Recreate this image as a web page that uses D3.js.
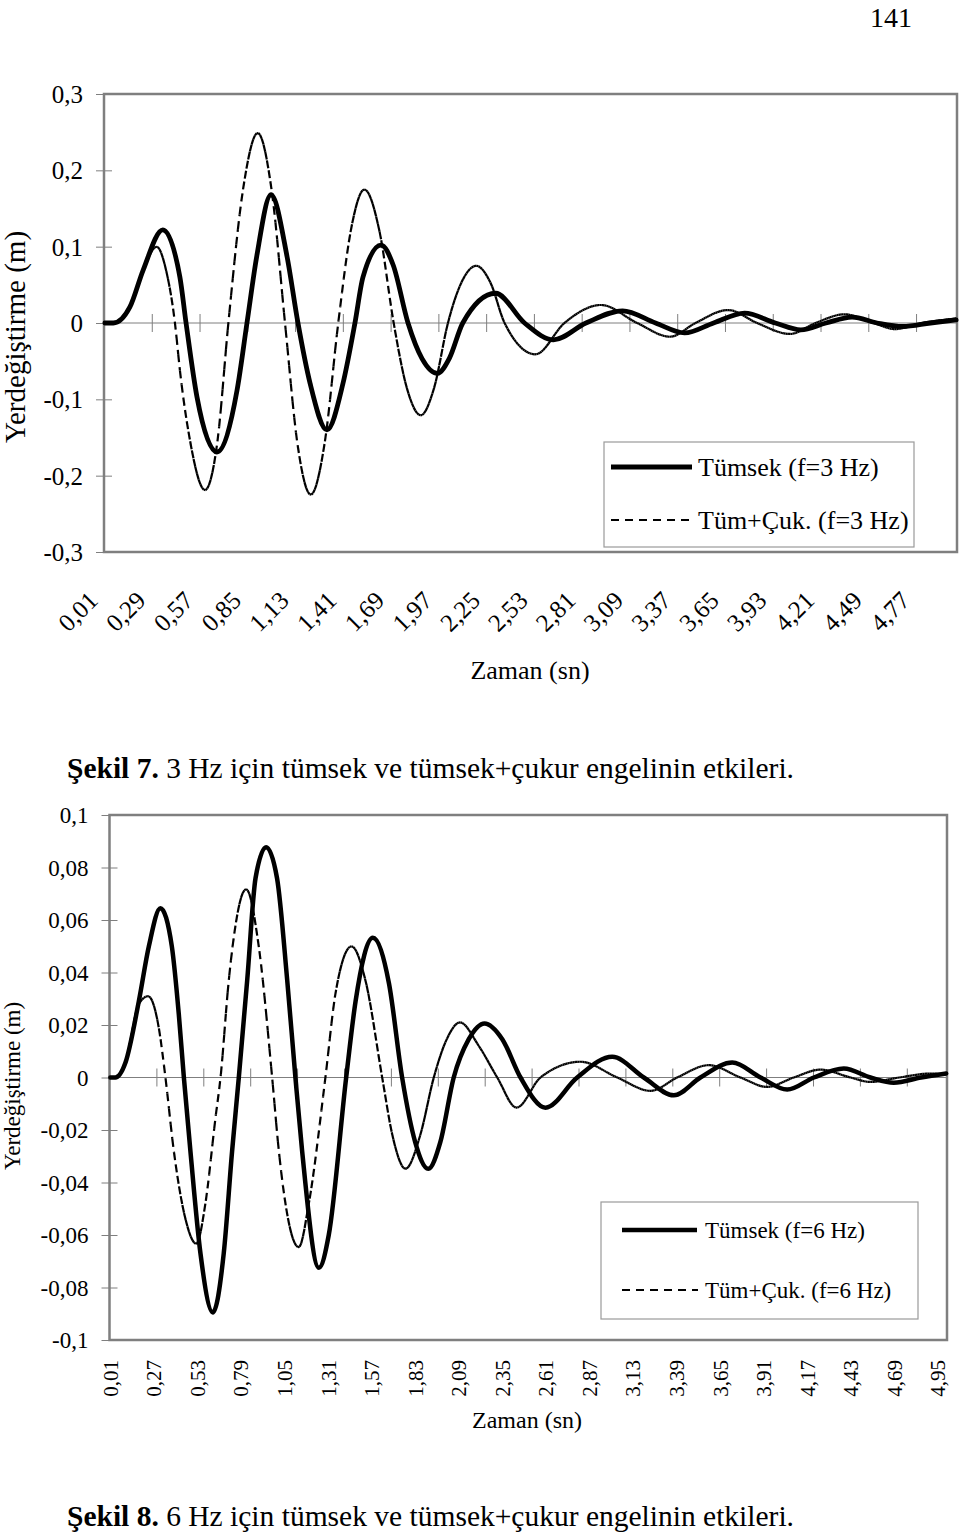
<!DOCTYPE html>
<html><head><meta charset="utf-8">
<script src="https://cdn.jsdelivr.net/npm/d3@7"></script>
<style>
body{margin:0;background:#fff}
text{font-family:"Liberation Serif","Times New Roman",serif;fill:#000}
</style>
</head><body><script>
// ---------- Figure 7 (3 Hz) ----------
const xLabels3 = ["0,01","0,29","0,57","0,85","1,13","1,41","1,69","1,97","2,25","2,53","2,81","3,09","3,37","3,65","3,93","4,21","4,49","4,77"];
const yTicks3 = [0.3,0.2,0.1,0,-0.1,-0.2,-0.3];
const yLabels3 = ["0,3","0,2","0,1","0","-0,1","-0,2","-0,3"];
const tumsek3T = [0.01,0.06,0.157,0.234,0.35,0.45,0.486,0.55,0.667,0.785,0.843,0.90,0.984,1.078,1.142,1.213,1.312,1.406,1.476,1.523,1.629,1.70,1.787,1.87,1.959,2.03,2.108,2.30,2.47,2.64,2.83,3.045,3.238,3.408,3.578,3.76,3.94,4.09,4.237,4.39,4.536,4.687,4.85,5.00];
const tumsek3Y = [0,0,0.021,0.069,0.122,0.06,0,-0.097,-0.169,-0.088,0,0.087,0.168,0.087,0,-0.079,-0.14,-0.079,0,0.06,0.102,0.076,0,-0.047,-0.066,-0.046,0,0.039,0,-0.022,0,0.016,0,-0.013,0,0.013,0,-0.009,0,0.0077,0,-0.0046,0,0.004];
const tumcuk3T = [0.01,0.06,0.157,0.234,0.314,0.37,0.421,0.45,0.51,0.597,0.67,0.734,0.82,0.906,0.99,1.066,1.14,1.217,1.30,1.378,1.455,1.531,1.62,1.703,1.78,1.862,1.94,2.021,2.10,2.187,2.27,2.353,2.534,2.704,2.918,3.13,3.323,3.472,3.663,3.833,4.026,4.176,4.345,4.516,4.64,4.80,5.00];
const tumcuk3Y = [0,0,0.021,0.069,0.100,0.068,0,-0.062,-0.155,-0.219,-0.155,0,0.175,0.249,0.17,0,-0.16,-0.225,-0.155,0,0.125,0.175,0.12,0,-0.085,-0.121,-0.085,0,0.053,0.075,0.053,0,-0.041,0,0.0236,0,-0.018,0,0.017,0,-0.0144,0,0.0114,0,-0.008,0,0.006];

// ---------- Figure 8 (6 Hz) ----------
const xLabels6 = ["0,01","0,27","0,53","0,79","1,05","1,31","1,57","1,83","2,09","2,35","2,61","2,87","3,13","3,39","3,65","3,91","4,17","4,43","4,69","4,95"];
const yTicks6 = [0.1,0.08,0.06,0.04,0.02,0,-0.02,-0.04,-0.06,-0.08,-0.1];
const yLabels6 = ["0,1","0,08","0,06","0,04","0,02","0","-0,02","-0,04","-0,06","-0,08","-0,1"];
const tumsek6T = [0.01,0.04,0.10,0.18,0.24,0.309,0.377,0.419,0.449,0.488,0.548,0.622,0.687,0.737,0.777,0.827,0.877,0.94,1.005,1.066,1.115,1.155,1.255,1.314,1.418,1.474,1.577,1.673,1.752,1.83,1.908,1.98,2.06,2.15,2.244,2.35,2.459,2.608,2.797,3.006,3.195,3.374,3.533,3.723,3.892,4.051,4.21,4.389,4.548,4.687,4.85,5.00];
const tumsek6Y = [0,0,0.0056,0.029,0.050,0.0645,0.050,0.0239,0,-0.028,-0.067,-0.0895,-0.067,-0.028,0,0.037,0.076,0.0877,0.076,0.037,0,-0.028,-0.0725,-0.060,0,0.029,0.0532,0.036,0,-0.0246,-0.0348,-0.0246,0,0.0146,0.0206,0.0146,0,-0.0115,0,0.0079,0,-0.0068,0,0.0057,0,-0.0046,0,0.0034,0,-0.002,0,0.0015];
const tumcuk6T = [0.01,0.04,0.10,0.18,0.236,0.30,0.339,0.389,0.46,0.523,0.578,0.638,0.668,0.717,0.821,0.896,0.976,1.016,1.135,1.195,1.294,1.354,1.45,1.533,1.633,1.693,1.772,1.86,1.941,2.02,2.097,2.21,2.32,2.435,2.578,2.817,3.036,3.235,3.394,3.583,3.772,3.931,4.09,4.25,4.429,4.548,4.72,4.906,5.00];
const tumcuk6Y = [0,0,0.0056,0.028,0.031,0.0187,0,-0.028,-0.0543,-0.0634,-0.0478,-0.0152,0,0.037,0.0718,0.050,0,-0.028,-0.0647,-0.048,0,0.032,0.050,0.037,0,-0.0217,-0.0348,-0.022,0,0.0148,0.021,0.012,0,-0.0115,0,0.006,0,-0.0051,0,0.0047,0,-0.0036,0,0.003,0,-0.0017,0,0.0015,0.0012];

const W = 960, H = 1534;
const svg = d3.select("body").append("svg").attr("width", W).attr("height", H);
const zip = (a, b) => a.map((v, i) => [v, b[i]]);
const parseLab = s => +s.replace(",", ".");

function drawChart(o) {
  const g = svg.append("g");
  const x = d3.scaleLinear().domain([0.005, 5.005]).range([o.left, o.right]);
  const y = d3.scaleLinear().domain([-o.yMax, o.yMax]).range([o.bottom, o.top]);
  const gray = "#7f7f7f";

  // frame
  g.append("rect").attr("x", o.left).attr("y", o.top)
    .attr("width", o.right - o.left).attr("height", o.bottom - o.top)
    .attr("fill", "none").attr("stroke", gray).attr("stroke-width", 2.5);

  // y axis
  const ya = g.append("g").attr("transform", `translate(${o.left},0)`)
    .call(d3.axisLeft(y).tickValues(o.yTicks).tickFormat((d, i) => o.yLabels[i]).tickSize(8));
  ya.select(".domain").remove();
  ya.selectAll(".tick line").attr("x1", 8).attr("x2", -8).attr("stroke", gray);
  ya.selectAll(".tick text").attr("x", -o.yLabelGap).attr("dy", "0.34em")
    .style("font-family", '"Liberation Serif",serif').style("font-size", o.yFont + "px");

  // zero line with category tick marks
  const za = g.append("g").attr("transform", `translate(0,${y(0)})`)
    .call(d3.axisBottom(x).tickValues(d3.range(1, 18).map(k => 0.005 + k * 0.28)).tickFormat("").tickSize(9));
  za.select(".domain").remove();
  za.selectAll(".tick line").attr("y1", -9).attr("y2", 9).attr("stroke", gray);
  za.append("line").attr("x1", o.left).attr("x2", o.right).attr("stroke", gray).attr("stroke-width", 1);

  // category labels
  const xa = g.append("g")
    .call(d3.axisBottom(x).tickValues(o.xLabels.map(parseLab)).tickFormat((d, i) => o.xLabels[i]).tickSize(0));
  xa.select(".domain").remove();
  xa.selectAll(".tick text").attr("y", 0).attr("dy", 0)
    .attr("text-anchor", "end")
    .attr("transform", `translate(${o.xLabDx},${o.xLabY}) rotate(${o.xRot})`)
    .style("font-family", '"Liberation Serif",serif').style("font-size", o.xFont + "px");

  // axis titles
  g.append("text").attr("text-anchor", "middle")
    .attr("transform", `translate(${o.yTitleX},${o.yTitleY}) rotate(-90)`)
    .style("font-size", o.yTitleFont + "px").text("Yerdeğiştirme (m)");
  g.append("text").attr("text-anchor", "middle").attr("x", o.xTitleX).attr("y", o.xTitleY)
    .style("font-size", o.xTitleFont + "px").text("Zaman (sn)");

  const line = d3.line().x(d => x(d[0])).y(d => y(d[1])).curve(d3.curveMonotoneX);

  // solid series
  g.append("path").attr("d", line(o.solid)).attr("fill", "none").attr("stroke", "#000")
    .attr("stroke-width", o.solidW).attr("stroke-linejoin", "round").attr("stroke-linecap", "round");

  // dashed series: drawn category by category, dash pattern restarting on each segment
  const tmp = g.append("path").attr("d", line(o.dashed)).attr("fill", "none").attr("stroke", "none");
  const node = tmp.node(), L = node.getTotalLength();
  const N = Math.ceil(L / 0.4), s = [];
  for (let i = 0; i <= N; i++) s.push(node.getPointAtLength(i * L / N));
  tmp.remove();
  const cx = d3.range(500).map(i => x(0.01 + i * 0.01));
  let j = 0; const pts = [];
  for (const c of cx) {
    while (j < s.length - 2 && s[j + 1].x < c) j++;
    const a = s[j], b = s[j + 1];
    const f = b.x === a.x ? 0 : Math.max(0, Math.min(1, (c - a.x) / (b.x - a.x)));
    pts.push([c, a.y + (b.y - a.y) * f]);
  }
  g.append("g").selectAll("line").data(d3.pairs(pts)).join("line")
    .attr("x1", d => d[0][0]).attr("y1", d => d[0][1]).attr("x2", d => d[1][0]).attr("y2", d => d[1][1])
    .attr("stroke", "#000").attr("stroke-width", o.dashW).attr("stroke-dasharray", "8,5");

  // legend
  const lg = o.legend;
  g.append("rect").attr("x", lg.x).attr("y", lg.y).attr("width", lg.w).attr("height", lg.h)
    .attr("fill", "#fff").attr("stroke", "#9a9a9a").attr("stroke-width", 1.2);
  g.append("line").attr("x1", lg.lx1).attr("x2", lg.lx2).attr("y1", lg.y1).attr("y2", lg.y1)
    .attr("stroke", "#000").attr("stroke-width", o.solidW);
  g.append("line").attr("x1", lg.lx1).attr("x2", lg.lx2 + 1).attr("y1", lg.y2).attr("y2", lg.y2)
    .attr("stroke", "#000").attr("stroke-width", o.dashW).attr("stroke-dasharray", "8,6");
  g.append("text").attr("x", lg.tx).attr("y", lg.y1).attr("dy", "0.34em").style("font-size", lg.font + "px").text(lg.t1);
  g.append("text").attr("x", lg.tx).attr("y", lg.y2).attr("dy", "0.34em").style("font-size", lg.font + "px").text(lg.t2);
}

drawChart({
  left: 104, right: 957, top: 94, bottom: 552, yMax: 0.3,
  yTicks: yTicks3, yLabels: yLabels3, yLabelGap: 21, yFont: 25,
  xLabels: xLabels3, xLabDx: -6, xLabY: 602, xRot: -45, xFont: 25,
  yTitleX: 25, yTitleY: 337, yTitleFont: 29,
  xTitleX: 530, xTitleY: 679, xTitleFont: 26,
  solid: zip(tumsek3T, tumsek3Y), dashed: zip(tumcuk3T, tumcuk3Y), solidW: 4.8, dashW: 2.2,
  legend: {x: 604, y: 442, w: 310, h: 105, lx1: 611, lx2: 692, y1: 467, y2: 520, tx: 698, font: 26,
           t1: "Tümsek (f=3 Hz)", t2: "Tüm+Çuk. (f=3 Hz)"}
});

drawChart({
  left: 109.5, right: 947, top: 815, bottom: 1340, yMax: 0.1,
  yTicks: yTicks6, yLabels: yLabels6, yLabelGap: 21, yFont: 23,
  xLabels: xLabels6, xLabDx: 7, xLabY: 1360, xRot: -90, xFont: 21,
  yTitleX: 20, yTitleY: 1086, yTitleFont: 23,
  xTitleX: 527, xTitleY: 1428, xTitleFont: 24,
  solid: zip(tumsek6T, tumsek6Y), dashed: zip(tumcuk6T, tumcuk6Y), solidW: 4.5, dashW: 2.2,
  legend: {x: 601, y: 1202, w: 317, h: 117, lx1: 622, lx2: 697, y1: 1230, y2: 1290, tx: 705, font: 23,
           t1: "Tümsek (f=6 Hz)", t2: "Tüm+Çuk. (f=6 Hz)"}
});

// page number and captions
svg.append("text").attr("x", 912).attr("y", 27).attr("text-anchor", "end").style("font-size", "28px").text("141");
const c1 = svg.append("text").attr("x", 67).attr("y", 778).style("font-size", "29.5px");
c1.append("tspan").style("font-weight", "bold").text("Şekil 7.");
c1.append("tspan").text(" 3 Hz için tümsek ve tümsek+çukur engelinin etkileri.");
const c2 = svg.append("text").attr("x", 67).attr("y", 1526).style("font-size", "29.5px");
c2.append("tspan").style("font-weight", "bold").text("Şekil 8.");
c2.append("tspan").text(" 6 Hz için tümsek ve tümsek+çukur engelinin etkileri.");
</script></body></html>
